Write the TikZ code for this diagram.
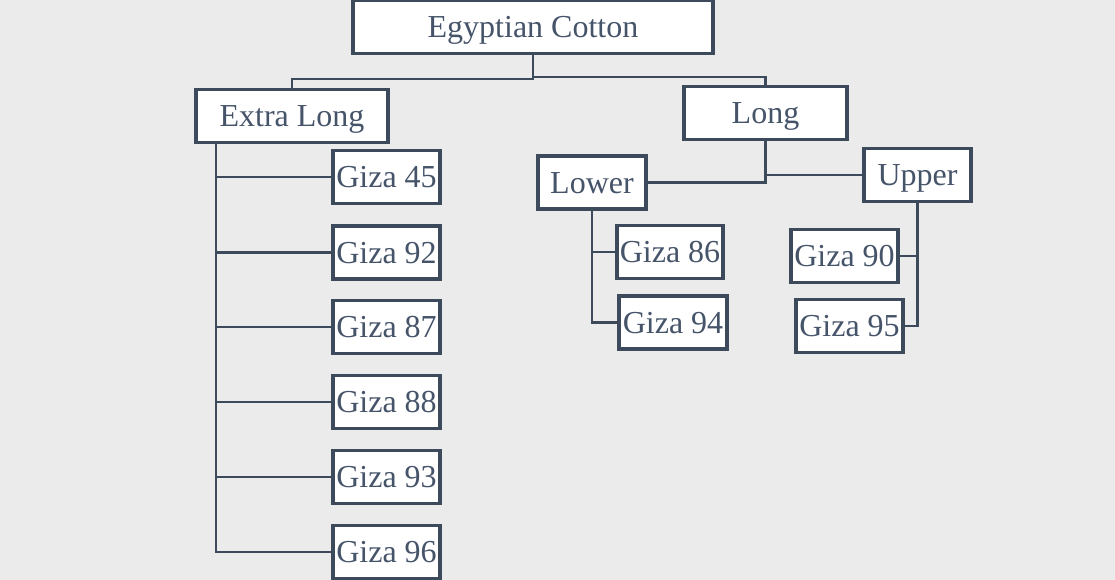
\documentclass[tikz,border=0pt]{standalone}
\usepackage{fontspec}
\setmainfont{Liberation Serif}
\usetikzlibrary{positioning}
\definecolor{bgcol}{HTML}{EBEBEB}
\definecolor{edgecol}{HTML}{3D4A5C}
\definecolor{txtcol}{HTML}{46546A}
\begin{document}
\begin{tikzpicture}[x=0.75pt,y=-0.75pt]
\tikzstyle{box} = [draw=edgecol,fill=white,line width=2.3pt,text=txtcol,inner sep=0pt,
  text height=16pt,text depth=0pt,
  minimum width=107*0.75pt,minimum height=53*0.75pt,font=\fontsize{24}{28}\selectfont]
\tikzstyle{link} = [draw=edgecol,line width=1.6pt]
\path[use as bounding box,fill=bgcol] (0,0) rectangle (1115,580);
% top levels
\node[box,minimum width=360*0.75pt] (root) at (533,27) {Egyptian Cotton};
\node[box,minimum width=192*0.75pt] (xlong) at (292,116) {Extra Long};
\node[box,minimum width=163*0.75pt] (long) at (765.5,113) {Long};
\node[box,minimum width=108*0.75pt] (lower) at (592,182.5) {Lower};
\node[box] (upper) at (917.5,175) {Upper};
% extra long varieties
\node[box] (g45) at (386.5,177) {Giza 45};
\node[box] (g92) at (386.5,252.5) {Giza 92};
\node[box] (g87) at (386.5,327) {Giza 87};
\node[box] (g88) at (386.5,402) {Giza 88};
\node[box] (g93) at (386.5,477) {Giza 93};
\node[box] (g96) at (386.5,552) {Giza 96};
% long varieties
\node[box,minimum width=106*0.75pt] (g86) at (670,252) {Giza 86};
\node[box,minimum width=108*0.75pt] (g94) at (673,322.5) {Giza 94};
\node[box] (g90) at (844.5,256) {Giza 90};
\node[box] (g95) at (849.5,326) {Giza 95};
% connectors
\draw[link] (root.south) -- ++(0,24) -| (xlong.north);
\draw[link] (root.south) ++(0,22) -| (long.north);
\coordinate (xtrunk) at (216,142);
\foreach \g in {g45,g92,g87,g88,g93,g96}
  \draw[link] (xtrunk) |- (\g.west);
\draw[link] (long.south) |- (lower.east);
\draw[link] (long.south) |- (upper.west);
\draw[link] (lower.south) |- (g86.west);
\draw[link] (lower.south) |- (g94.west);
\draw[link] (upper.south) |- (g90.east);
\draw[link] (upper.south) |- (g95.east);
\end{tikzpicture}
\end{document}
